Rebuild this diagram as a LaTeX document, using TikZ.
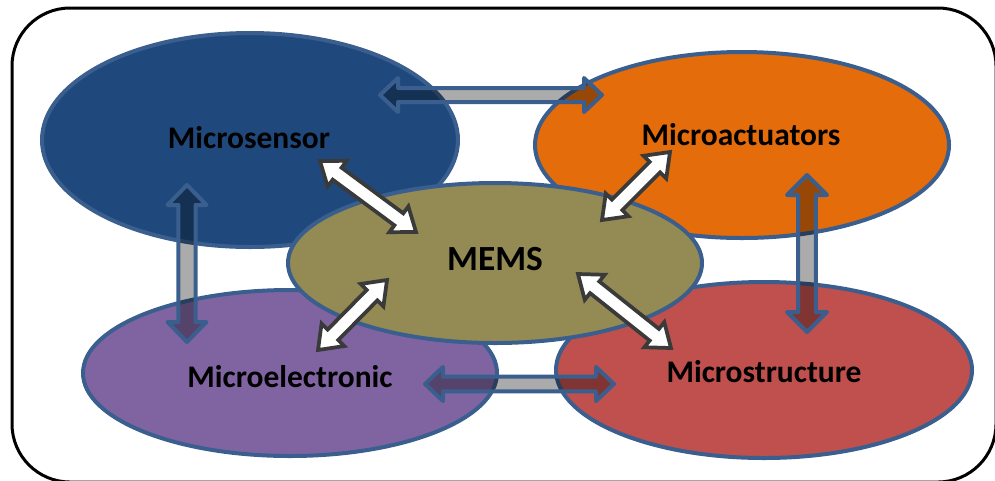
\documentclass[tikz,border=0pt]{standalone}
\usepackage{fontspec}
\setmainfont{Carlito}
\usetikzlibrary{shapes.geometric,calc}

\definecolor{sensorblue}{HTML}{1F497D}
\definecolor{actorange}{HTML}{E46C0A}
\definecolor{memsolive}{HTML}{948A54}
\definecolor{elecpurple}{HTML}{8064A2}
\definecolor{structred}{HTML}{C0504D}
\definecolor{rimblue}{HTML}{3A5F8E}
\definecolor{rimgray}{HTML}{3A3A3A}

% double block arrow: #1 style, #2 tail, #3 tip, #4 shaft half width, #5 head half width, #6 head length
\newcommand{\dblarrow}[6]{%
  \draw[#1] (#2) -- ($(#2)!#6!(#3)!#5!90:(#3)$) -- ($(#2)!#6!(#3)!#4!90:(#3)$)
    -- ($(#3)!#6!(#2)!#4!-90:(#2)$) -- ($(#3)!#6!(#2)!#5!-90:(#2)$) -- (#3)
    -- ($(#3)!#6!(#2)!#5!90:(#2)$) -- ($(#3)!#6!(#2)!#4!90:(#2)$)
    -- ($(#2)!#6!(#3)!#4!-90:(#3)$) -- ($(#2)!#6!(#3)!#5!-90:(#3)$) -- cycle;}

\tikzset{
  blob/.style={ellipse, draw=rimblue, line width=3pt, inner sep=0pt},
  tag/.style={font=\fontsize{23.6}{28}\selectfont\bfseries, text=black, inner sep=0pt},
  linkarrow/.style={draw=rimblue, line width=3pt, fill=black, fill opacity=0.33, line join=round},
  whitearrow/.style={draw=rimgray, line width=2.8pt, fill=white, line join=miter}
}

\begin{document}
\begin{tikzpicture}[x=0.75pt,y=0.75pt,yscale=-1,xscale=1]
\useasboundingbox (0,0) rectangle (995,480);

%Shape: Frame
\draw[line width=2.25pt, rounded corners=43.5pt] (12,8) rectangle (996,482);

%Shape: Ellipses
\node[blob, fill=sensorblue, minimum width=312pt, minimum height=160.5pt] (sensor) at (250,140) {};
\node[blob, fill=actorange, minimum width=310.5pt, minimum height=139.5pt] (act) at (742,145) {};
\node[blob, fill=elecpurple, minimum width=310.5pt, minimum height=124.5pt] (elec) at (290,373) {};
\node[blob, fill=structred, minimum width=312pt, minimum height=132pt] (struct) at (764,370) {};
\node[blob, fill=memsolive, minimum width=310.5pt, minimum height=120pt] (mems) at (495,263) {};

% Text Nodes
\node[tag] (sensorT) at (249,138) {Microsensor};
\node[tag] (actT) at (741,135) {Microactuators};
\node[tag] (elecT) at (290,377) {Microelectronic};
\node[tag] (structT) at (764,372) {Microstructure};
\node[tag, font=\fontsize{26.5}{30}\selectfont\bfseries] (memsT) at (495,259) {MEMS};

% Arrow ends
\coordinate (topL) at (380,95);
\coordinate (topR) at (602,95);
\coordinate (leftT) at (187,185);
\coordinate (leftB) at (187,342);
\coordinate (rightT) at (807,175);
\coordinate (rightB) at (807,332);
\coordinate (botL) at (425,384);
\coordinate (botR) at (614,384);

\coordinate (sensorA) at (320,161);
\coordinate (memsA) at (416,232);
\coordinate (memsB) at (602,220);
\coordinate (actB) at (670,152);
\coordinate (elecC) at (318,350);
\coordinate (memsC) at (387,280);
\coordinate (memsD) at (578,274);
\coordinate (structD) at (671,348);

%Block Arrows: grey links
\dblarrow{linkarrow}{topL}{topR}{5.25pt}{12.75pt}{13.5pt}
\dblarrow{linkarrow}{leftT}{leftB}{6.4pt}{14.6pt}{15pt}
\dblarrow{linkarrow}{rightT}{rightB}{6.6pt}{15pt}{15pt}
\dblarrow{linkarrow}{botL}{botR}{5.6pt}{12.75pt}{13.5pt}

%Block Arrows: white links
\dblarrow{whitearrow}{sensorA}{memsA}{5.6pt}{12pt}{16pt}
\dblarrow{whitearrow}{memsB}{actB}{5.6pt}{12pt}{16pt}
\dblarrow{whitearrow}{elecC}{memsC}{5.6pt}{12pt}{16pt}
\dblarrow{whitearrow}{memsD}{structD}{5.6pt}{12pt}{16pt}

\end{tikzpicture}
\end{document}
